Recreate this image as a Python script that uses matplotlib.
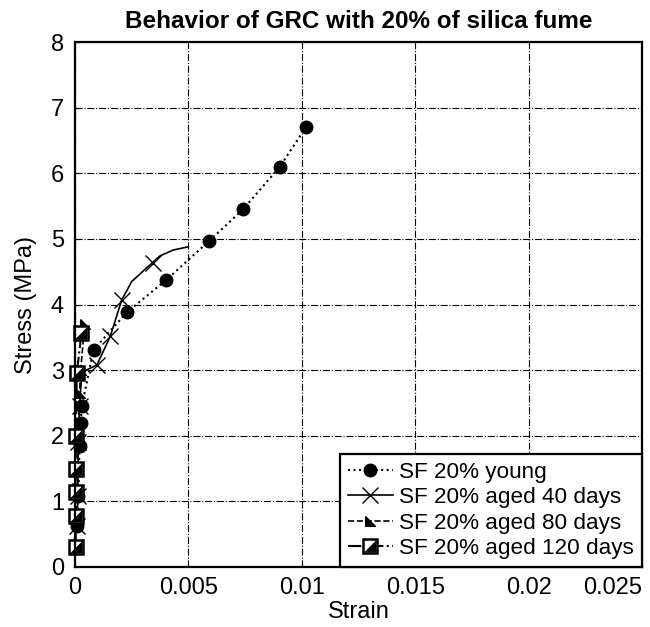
import matplotlib.pyplot as plt
from matplotlib.legend_handler import HandlerTuple

plt.rcParams['font.family'] = ['Liberation Sans', 'DejaVu Sans']

# SF 20% young (circles, dotted)
young_strain = [0.0001, 0.00015, 0.0002, 0.00025, 0.0003, 0.00082, 0.00228, 0.00401,
                0.00592, 0.00741, 0.00903, 0.0102]
young_stress = [0.62, 1.08, 1.85, 2.2, 2.45, 3.31, 3.88, 4.37, 4.97, 5.45, 6.10, 6.71]

# SF 20% aged 40 days (crosses, solid)
aged40_strain = [0.0001, 0.00012, 0.00015, 0.0002, 0.0003, 0.0005, 0.00097, 0.00156,
                 0.00206, 0.0025, 0.00342, 0.00374, 0.00433, 0.005]
aged40_stress = [0.62, 1.08, 1.9, 2.45, 2.95, 3.0, 3.08, 3.52, 4.07, 4.35, 4.64, 4.74, 4.83, 4.88]
aged40_marks = [0, 1, 2, 3, 6, 7, 8, 10]

# SF 20% aged 80 days (triangles, dashed)
aged80_strain = [0.00005, 0.0001, 0.0001, 0.00015, 0.0002, 0.00025, 0.00043]
aged80_stress = [0.7, 1.2, 1.5, 2.0, 2.65, 3.0, 3.71]

# SF 20% aged 120 days (half filled squares, dash-dot)
aged120_strain = [0.00003, 0.00004, 0.00003, 0.00004, 0.00004, 0.00008, 0.00028]
aged120_stress = [0.31, 0.77, 1.15, 1.5, 2.0, 2.95, 3.56]

fig = plt.figure(figsize=(6.5, 6.27), dpi=100)
ax = fig.add_axes([0.1154, 0.0957, 0.8723, 0.8373])

tri = [(-1, 1), (-1, -1), (1, -1), (-1, 1)]
half_sq = [(1, 1), (1, -1), (-1, -1), (1, 1)]

l1, = ax.plot(young_strain, young_stress, ls=':', color='k', lw=1.5,
              marker='o', ms=9, mfc='k', mec='k', clip_on=False)
l2, = ax.plot(aged40_strain, aged40_stress, ls='-', color='k', lw=1.2,
              marker='x', ms=11, mew=1, markevery=aged40_marks, clip_on=False)
l3, = ax.plot(aged80_strain, aged80_stress, ls='--', color='k', lw=1.2,
              marker=tri, ms=7, mfc='k', mec='k', clip_on=False)
l4, = ax.plot(aged120_strain, aged120_stress, ls='-.', color='k', lw=1.5,
              marker='s', ms=10, mfc='white', mec='k', mew=1.8, clip_on=False)
l4b, = ax.plot(aged120_strain, aged120_stress, ls='none', color='k',
               marker=half_sq, ms=8, mfc='k', mec='k', mew=0.5, clip_on=False)

ax.set_xlim(0, 0.025)
ax.set_ylim(0, 8)
ax.set_xticks([0, 0.005, 0.01, 0.015, 0.02, 0.025])
ax.set_xticklabels(['0', '0.005', '0.01', '0.015', '0.02', '0.025'])
ax.set_yticks(range(0, 9))
ax.grid(True, color='k', ls='-.', lw=0.8)
ax.tick_params(direction='in', length=3, labelsize=17)
ax.tick_params(axis='x', pad=7)
ax.tick_params(axis='y', pad=8)
ax.get_xticklabels()[-1].set_horizontalalignment('right')
ax.get_xticklabels()[-1].set_x(0.0253)
for s in ax.spines.values():
    s.set_linewidth(1.6)

ax.set_title('Behavior of GRC with 20% of silica fume', fontsize=17.5,
             fontweight='bold', pad=10)
ax.set_xlabel('Strain', fontsize=17, labelpad=2)
ax.set_ylabel('Stress (MPa)', fontsize=17, labelpad=10)

leg = ax.legend([l1, l2, l3, (l4, l4b)],
                ['SF 20% young', 'SF 20% aged 40 days', 'SF 20% aged 80 days',
                 'SF 20% aged 120 days'],
                handler_map={tuple: HandlerTuple(ndivide=1, pad=0)},
                loc='lower right', borderaxespad=0, fontsize=16.2,
                fancybox=False, framealpha=1, edgecolor='k',
                handlelength=2.0, handletextpad=0.3, labelspacing=0.2,
                borderpad=0.35)
leg.get_frame().set_linewidth(1.6)

fig.savefig('out.png', dpi=100)
